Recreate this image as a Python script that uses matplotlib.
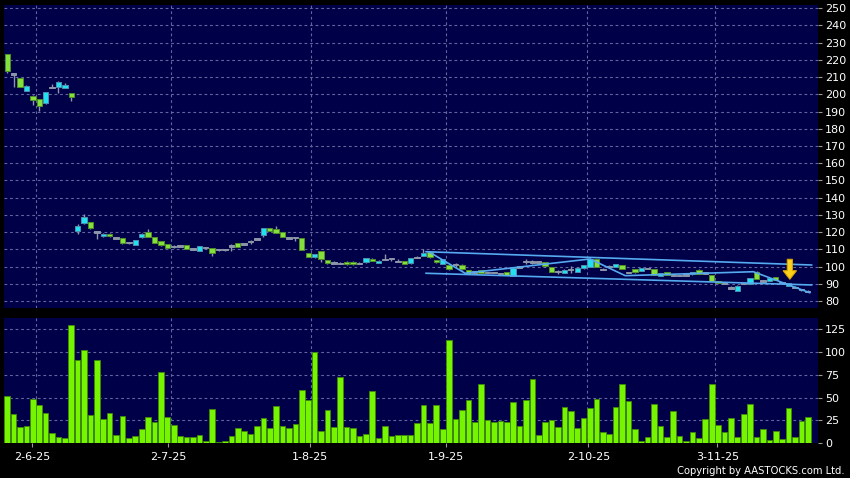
import matplotlib
matplotlib.use("Agg")
import matplotlib.pyplot as plt
from matplotlib.patches import FancyArrow
import numpy as np

# ---------------- data ----------------
opens = [223.5, 211.7, 209.3, 202.1, 199.0, 197.1, 194.8, 203.9, 204.5, 203.9, 200.6,
         120.8, 125.5, 125.7, 120.3, 117.6, 119.0, 116.6, 116.4, 114.0, 112.7,
         117.0, 120.1, 117.0, 114.7, 113.1, 111.7, 111.8, 112.5, 110.0, 109.2,
         110.8, 110.6, 110.0, 109.8, 111.8, 113.5, 113.6, 115.0, 116.4, 118.5,
         122.2, 121.6, 120.1, 117.0, 117.1, 116.6, 107.7, 105.4, 108.9, 103.8,
         101.9, 102.2, 102.8, 102.8, 102.3, 102.5, 104.6, 102.2, 104.4, 104.8,
         103.2, 103.0, 101.9, 105.5, 106.3, 108.3, 103.8, 101.7, 100.7, 101.0,
         101.1, 98.0, 97.1, 98.0, 96.9, 96.7, 96.2, 96.9, 94.5, 100.1,
         102.7, 102.5, 102.7, 102.5, 99.6, 96.9, 96.4, 98.0, 96.9, 99.0,
         100.0, 104.4, 98.7, 100.5, 100.0, 100.9, 96.9, 98.4, 97.4, 99.2,
         98.4, 94.7, 96.9, 94.9, 95.1, 95.3, 95.5, 98.2, 96.4, 95.1,
         91.6, 90.6, 88.0, 86.0, 90.2, 90.1, 97.0, 91.8, 91.8, 93.8,
         91.0, 88.7, 88.0, 86.9, 85.4]
closes = [213.8, 211.7, 204.5, 204.9, 196.7, 193.4, 201.4, 203.9, 207.2, 205.5, 198.7,
          123.6, 128.6, 122.6, 120.0, 119.1, 117.6, 116.4, 113.5, 113.8, 115.4,
          118.9, 117.4, 113.9, 112.5, 111.0, 111.7, 111.8, 110.4, 110.0, 111.8,
          110.8, 108.1, 109.6, 109.6, 111.8, 111.5, 113.0, 114.6, 115.9, 122.4,
          120.8, 119.7, 117.4, 116.5, 116.7, 109.8, 105.7, 107.3, 104.2, 101.9,
          101.9, 101.8, 101.3, 101.3, 101.7, 104.8, 103.2, 103.4, 104.0, 104.4,
          103.0, 101.7, 105.0, 105.1, 107.9, 105.4, 102.5, 104.2, 98.4, 101.0,
          98.4, 95.7, 96.7, 96.5, 96.5, 96.3, 95.8, 95.3, 99.2, 99.6,
          102.7, 102.5, 102.5, 100.2, 96.9, 96.9, 98.1, 98.0, 99.3, 100.9,
          104.4, 100.0, 98.3, 100.1, 101.3, 98.6, 96.4, 96.7, 99.2, 98.8,
          95.3, 96.1, 95.3, 94.6, 94.8, 95.0, 96.7, 95.9, 96.2, 91.6,
          90.6, 90.4, 87.5, 88.9, 90.0, 93.3, 92.8, 91.4, 93.3, 92.2,
          90.8, 90.3, 87.8, 86.7, 85.2]
highs = [223.5, 212.0, 209.5, 205.5, 199.5, 197.5, 201.6, 206.0, 207.5, 206.8, 201.0,
         124.7, 130.4, 126.0, 120.6, 119.5, 119.4, 117.0, 116.6, 114.3, 115.6,
         119.2, 121.6, 117.2, 115.0, 113.3, 112.6, 112.4, 112.7, 110.3, 112.0,
         111.2, 110.8, 110.2, 110.0, 112.9, 113.7, 113.9, 115.4, 116.8, 122.6,
         122.4, 123.6, 120.3, 117.4, 117.4, 116.8, 107.9, 107.5, 109.1, 104.0,
         103.1, 102.6, 103.0, 103.0, 102.5, 105.0, 104.8, 103.6, 107.3, 105.0,
         104.5, 103.2, 105.2, 105.9, 110.0, 108.5, 104.0, 104.4, 100.9, 102.0,
         101.3, 98.2, 97.3, 98.2, 97.1, 96.9, 96.4, 97.1, 99.4, 100.5,
         104.3, 104.0, 103.0, 102.7, 99.8, 98.0, 98.3, 100.3, 99.5, 101.1,
         104.6, 104.6, 99.0, 100.7, 101.5, 101.1, 97.1, 98.6, 99.4, 99.4,
         98.6, 96.3, 97.1, 95.1, 95.3, 95.5, 96.9, 98.4, 96.6, 95.3,
         91.8, 90.8, 88.5, 89.1, 90.4, 93.5, 97.2, 92.0, 93.5, 94.0,
         91.2, 90.5, 88.5, 87.2, 86.4]
lows = [212.4, 204.5, 204.0, 202.0, 193.8, 190.5, 194.5, 203.5, 200.6, 203.5, 196.3,
        118.9, 125.0, 122.0, 116.2, 117.2, 117.2, 116.0, 113.2, 113.3, 112.5,
        116.8, 117.2, 113.6, 112.2, 110.8, 110.8, 111.2, 110.2, 109.6, 109.0,
        110.4, 106.1, 109.2, 109.2, 109.2, 111.3, 112.7, 113.1, 115.4, 117.4,
        120.6, 119.5, 117.2, 116.2, 114.7, 109.6, 105.5, 105.2, 102.7, 101.7,
        101.2, 101.5, 101.1, 101.1, 101.4, 102.3, 103.0, 102.0, 103.8, 103.2,
        102.6, 101.5, 101.7, 104.8, 106.1, 105.2, 102.3, 101.5, 98.2, 100.0,
        98.2, 95.5, 96.5, 96.3, 96.3, 96.1, 95.6, 95.1, 94.3, 99.2,
        101.2, 101.7, 102.3, 100.0, 96.7, 95.4, 96.2, 96.5, 96.7, 98.8,
        99.8, 99.8, 98.0, 99.9, 99.8, 98.4, 96.2, 96.5, 97.2, 98.6,
        95.1, 94.5, 95.1, 94.4, 94.6, 94.8, 95.3, 95.7, 96.0, 91.4,
        90.4, 90.2, 86.9, 85.8, 89.8, 89.9, 92.6, 91.2, 91.6, 92.0,
        90.6, 88.5, 87.3, 86.0, 85.0]
volumes = [51.5, 31.8, 17.9, 19.4, 48.2, 41.7, 32.9, 11.0, 6.9, 5.8, 129.0,
           90.6, 102.0, 31.0, 91.0, 27.0, 32.9, 8.8, 30.3, 6.2, 7.7,
           16.0, 28.9, 23.0, 77.5, 28.5, 19.7, 7.7, 6.9, 6.6, 8.8,
           2.6, 37.3, 1.1, 2.9, 8.0, 17.2, 13.2, 10.2, 18.6, 28.1,
           17.2, 40.9, 19.0, 16.2, 21.6, 58.0, 47.5, 99.4, 13.9, 36.5,
           17.5, 73.0, 17.5, 16.4, 8.0, 10.6, 57.4, 5.5, 18.6, 8.0,
           8.8, 8.8, 8.8, 22.7, 42.4, 22.3, 41.7, 15.7, 112.6, 27.0,
           36.5, 47.5, 23.4, 65.0, 25.2, 23.4, 24.5, 23.0, 45.3, 19.0,
           47.1, 70.2, 9.5, 23.4, 25.2, 17.9, 39.8, 35.0, 17.2, 27.8,
           38.4, 47.9, 12.4, 10.6, 40.2, 64.7, 46.0, 15.4, 2.2, 6.6,
           43.1, 19.4, 6.6, 35.1, 8.4, 2.9, 12.4, 5.5, 27.0, 64.7,
           20.1, 12.1, 27.4, 6.6, 31.8, 42.8, 7.3, 15.7, 4.0, 13.9,
           4.8, 38.4, 6.6, 24.5, 28.5]

date_labels = ['2-6-25', '2-7-25', '1-8-25', '1-9-25', '2-10-25', '3-11-25']
date_tick_pos = [3.92, 25.15, 47.32, 68.56, 90.73, 110.87]
month_start_idx = [5, 26, 48, 69, 91, 111]

price_ticks = list(range(80, 251, 10))
vol_ticks = [0, 25, 50, 75, 100, 125]

# user-drawn trend lines (bar index, price)
channel_upper_x = [65.4, 125.6]
channel_upper_y = [108.6, 100.9]
channel_lower_x = [65.4, 125.6]
channel_lower_y = [96.1, 89.3]
zigzag_x = [66.0, 71.5, 91.0, 96.5, 116.5, 125.3]
zigzag_y = [108.2, 96.1, 104.4, 94.7, 97.0, 84.8]
arrow_x = 122.2
arrow_top = 104.2
arrow_tip = 92.6

# ---------------- style ----------------
BG = '#000048'
GRID = '#6464a0'
GREEN = '#86e03c'
GREEN_EDGE = '#4f8f2a'
CYAN = '#22e0f0'
CYAN_EDGE = '#4a8fb0'
GRAY = '#8c96a8'
VOL = '#76f500'
VOL_EDGE = '#3f8a08'
LINE = '#55aaf0'

W, H = 850, 478
fig = plt.figure(figsize=(W / 100, H / 100), dpi=100, facecolor='black')
L, R = 4, 818
ax_p = fig.add_axes([L / W, 1 - 307.7 / H, (R - L) / W, (307.7 - 5) / H])
ax_v = fig.add_axes([L / W, 1 - 443.3 / H, (R - L) / W, (443.3 - 318.3) / H])

xlim = (-0.5, 126.6)
n = len(opens)
x = np.arange(n)

for ax in (ax_p, ax_v):
    ax.set_facecolor(BG)
    ax.set_xlim(*xlim)
    for s in ax.spines.values():
        s.set_visible(False)
    ax.yaxis.tick_right()
    ax.tick_params(axis='y', length=3, width=0.8, color='#9a9a9a', pad=2,
                   labelsize=8, labelcolor='white')
    ax.grid(axis='y', color=GRID, linestyle=(0, (2.5, 2.5)), linewidth=0.8)
    for m in month_start_idx:
        ax.axvline(m - 0.5, color=GRID, linestyle=(0, (2.5, 2.5)), linewidth=0.8, zorder=0.5)
    ax.set_axisbelow(True)

# ---- price panel ----
ax_p.set_ylim(76.1, 251.9)
ax_p.set_yticks(price_ticks)
ax_p.set_yticklabels([str(t) for t in price_ticks])
ax_p.set_xticks([])

o = np.array(opens); c = np.array(closes); hi = np.array(highs); lo = np.array(lows)
ax_p.vlines(x, lo, hi, color=GRAY, linewidth=1.0, zorder=2)
for i in range(n):
    d = c[i] - o[i]
    if abs(d) < 0.65:
        col, ec = GRAY, GRAY
        bottom = min(o[i], c[i]) - 0.25
        height = max(abs(d), 0.5) + 0.25
    elif d > 0:
        col, ec = CYAN, CYAN_EDGE
        bottom, height = o[i], d
    else:
        col, ec = GREEN, GREEN_EDGE
        bottom, height = c[i], -d
    ax_p.bar(x[i], height, bottom=bottom, width=0.84, color=col,
             edgecolor=ec, linewidth=0.7, zorder=3)

ax_p.plot(channel_upper_x, channel_upper_y, color=LINE, linewidth=1.2, zorder=4)
ax_p.plot(channel_lower_x, channel_lower_y, color=LINE, linewidth=1.2, zorder=4)
ax_p.plot(zigzag_x, zigzag_y, color=LINE, linewidth=1.2, zorder=4)

arr = FancyArrow(arrow_x, arrow_top, 0, arrow_tip - arrow_top, width=0.8,
                 head_width=2.1, head_length=5.0, length_includes_head=True,
                 facecolor='#ffd21a', edgecolor='#d9a400', linewidth=0.8, zorder=6)
ax_p.add_patch(arr)

# ---- volume panel ----
ax_v.set_ylim(0, 136.7)
ax_v.set_yticks(vol_ticks)
ax_v.set_yticklabels([str(t) for t in vol_ticks])
ax_v.bar(x, volumes, width=0.88, color=VOL, edgecolor=VOL_EDGE, linewidth=0.6, zorder=3)
ax_v.set_xticks(date_tick_pos)
ax_v.set_xticklabels(date_labels)
ax_v.tick_params(axis='x', length=3, width=0.8, color='#9a9a9a', pad=3,
                 labelsize=8, labelcolor='white')

fig.text(845 / W, 1 - 471 / H, 'Copyright by AASTOCKS.com Ltd.', ha='right', va='center',
         color='white', fontsize=8, family=['Liberation Sans Narrow', 'DejaVu Sans'],
         fontstretch='condensed')

fig.savefig('out.png', dpi=100, facecolor='black')
